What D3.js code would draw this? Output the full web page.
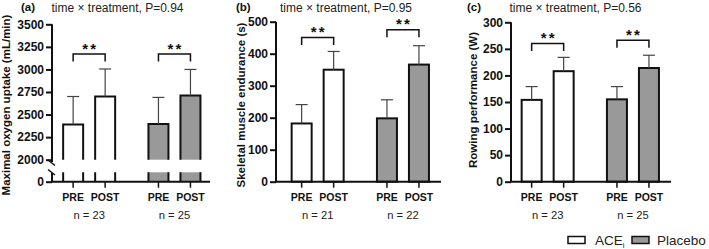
<!DOCTYPE html>
<html>
<head>
<meta charset="utf-8">
<script src="https://cdn.jsdelivr.net/npm/d3@7"></script>
<style>
  body { margin: 0; background: #fff; }
  svg { display: block; font-family: Arial, "Liberation Sans", Helvetica, sans-serif; }
</style>
</head>
<body>
<div id="chart"></div>
<script>
    // values
    const groups = ["ACEi", "Placebo"];
    const times = ["PRE", "POST"];

    const vo2Mean = [[2390, 2700], [2395, 2710]];
    const vo2Sd = [[310, 305], [295, 290]];
    const vo2N = [23, 25];
    const vo2Ticks = [2000, 2250, 2500, 2750, 3000, 3250, 3500];

    const endMean = [[182, 350], [198, 366]];
    const endSd = [[59, 57], [58, 59]];
    const endN = [21, 22];
    const endTicks = [0, 100, 200, 300, 400, 500];

    const rowMean = [[154, 208], [155, 214]];
    const rowSd = [[25, 26], [24, 24]];
    const rowN = [23, 25];
    const rowTicks = [0, 50, 100, 150, 200, 250, 300];

    const pValues = ["0.94", "0.95", "0.56"];
    const panelLetters = ["(a)", "(b)", "(c)"];
    const yLabels = ["Maximal oxygen uptake (mL/min)", "Skeletal muscle endurance (s)", "Rowing performance (W)"];
    const bracketLevel = [[3170, 3170], [451, 475], [260, 266]];

    const width = 709;
    const height = 249;
    const fillColor = {ACEi: "#ffffff", Placebo: "#999999"};

    const svg = d3.select("#chart").append("svg")
        .attr("width", width)
        .attr("height", height);

    const panels = [
        {mean: vo2Mean, sd: vo2Sd, n: vo2N, ticks: vo2Ticks, domain: [2000, 3500], broken: true,
         axisX: 52, axisEnd: 210, pad: 5.8, top: 24.3, base: 159.7, letterX: 21, titleX: 117.5, labelX: 10},
        {mean: endMean, sd: endSd, n: endN, ticks: endTicks, domain: [0, 500], broken: false,
         axisX: 276, axisEnd: 441, pad: 10.3, top: 21.7, base: 181.7, letterX: 236, titleX: 346, labelX: 245},
        {mean: rowMean, sd: rowSd, n: rowN, ticks: rowTicks, domain: [0, 300], broken: false,
         axisX: 511, axisEnd: 671, pad: 5.3, top: 22.3, base: 181.7, letterX: 467, titleX: 575.5, labelX: 477}
    ];

    const zeroY = 181.7;
    const lowerTop = 172.3;

    panels.forEach((p, pi) => {
        const g = svg.append("g");

        const y = d3.scaleLinear().domain(p.domain).range([p.base, p.top]);
        const yLow = d3.scaleLinear().domain([0, 400]).range([zeroY, lowerTop]);

        const outer = d3.scaleBand()
            .domain(groups)
            .range([p.axisX + p.pad, p.axisX + p.pad + 148])
            .paddingInner(0.265);
        const inner = d3.scaleBand()
            .domain(times)
            .range([0, outer.bandwidth()])
            .paddingInner(0.375)
            .paddingOuter(0.167);

        const rows = [];
        groups.forEach((grp, gi) => {
            times.forEach((t, ti) => {
                rows.push({grp, t, gi, ti, mean: p.mean[gi][ti], sd: p.sd[gi][ti]});
            });
        });
        const bx = d => outer(d.grp) + inner(d.t);
        const cx = d => bx(d) + inner.bandwidth() / 2;

        // bars
        if (p.broken) {
            g.selectAll("rect.up").data(rows).join("rect")
                .attr("x", bx).attr("width", inner.bandwidth())
                .attr("y", d => y(d.mean)).attr("height", d => y(p.domain[0]) - y(d.mean))
                .attr("fill", d => fillColor[d.grp]);
            g.selectAll("path.up").data(rows).join("path")
                .attr("d", d => `M${bx(d)},${y(p.domain[0])}V${y(d.mean)}H${bx(d) + inner.bandwidth()}V${y(p.domain[0])}`)
                .attr("fill", "none").attr("stroke", "#111").attr("stroke-width", 2);
            g.selectAll("rect.low").data(rows).join("rect")
                .attr("x", bx).attr("width", inner.bandwidth())
                .attr("y", yLow(400)).attr("height", yLow(0) - yLow(400))
                .attr("fill", d => fillColor[d.grp]);
            g.selectAll("path.low").data(rows).join("path")
                .attr("d", d => `M${bx(d)},${yLow(400)}V${yLow(0)}M${bx(d) + inner.bandwidth()},${yLow(400)}V${yLow(0)}`)
                .attr("stroke", "#111").attr("stroke-width", 2);
        } else {
            g.selectAll("rect.bar").data(rows).join("rect")
                .attr("x", bx).attr("width", inner.bandwidth())
                .attr("y", d => y(d.mean)).attr("height", d => y(0) - y(d.mean))
                .attr("fill", d => fillColor[d.grp])
                .attr("stroke", "#111").attr("stroke-width", 2);
        }

        // error bars (upper only)
        const eb = g.selectAll("g.err").data(rows).join("g").attr("stroke", "#444").attr("stroke-width", 1.2);
        eb.append("line")
            .attr("x1", cx).attr("x2", cx)
            .attr("y1", d => y(d.mean)).attr("y2", d => y(d.mean + d.sd));
        eb.append("line")
            .attr("x1", d => cx(d) - 6).attr("x2", d => cx(d) + 6)
            .attr("y1", d => y(d.mean + d.sd)).attr("y2", d => y(d.mean + d.sd));

        // y axis
        const yAxis = d3.axisLeft(y).tickValues(p.ticks).tickSize(6).tickPadding(2).tickFormat(d3.format("d"));
        const ya = g.append("g").attr("transform", `translate(${p.axisX},0)`).call(yAxis);
        ya.select(".domain").remove();
        if (p.broken) {
            const yl = g.append("g").attr("transform", `translate(${p.axisX},0)`)
                .call(d3.axisLeft(yLow).tickValues([0]).tickSize(6).tickPadding(2));
            yl.select(".domain").remove();
            g.append("line").attr("x1", p.axisX).attr("x2", p.axisX)
                .attr("y1", p.top).attr("y2", 162).attr("stroke", "#111").attr("stroke-width", 2);
            g.append("line").attr("x1", p.axisX).attr("x2", p.axisX)
                .attr("y1", 173).attr("y2", zeroY).attr("stroke", "#111").attr("stroke-width", 2);
            [160, 169.5].forEach(v => {
                g.append("line").attr("x1", p.axisX - 4).attr("x2", p.axisX + 3)
                    .attr("y1", v).attr("y2", v + 5.5).attr("stroke", "#111").attr("stroke-width", 1.5);
            });
        } else {
            g.append("line").attr("x1", p.axisX).attr("x2", p.axisX)
                .attr("y1", p.top).attr("y2", zeroY).attr("stroke", "#111").attr("stroke-width", 2);
        }
        g.selectAll(".tick line").attr("stroke", "#111").attr("stroke-width", 2);
        g.selectAll(".tick text").attr("font-size", 12).attr("font-weight", "bold").attr("fill", "#111")
            .attr("font-family", "Arial, 'Liberation Sans', sans-serif");

        // x axis
        g.append("line").attr("x1", p.axisX - 1).attr("x2", p.axisEnd)
            .attr("y1", zeroY).attr("y2", zeroY).attr("stroke", "#111").attr("stroke-width", 2);
        g.selectAll("line.xt").data(rows).join("line")
            .attr("x1", cx).attr("x2", cx).attr("y1", zeroY).attr("y2", zeroY + 6)
            .attr("stroke", "#111").attr("stroke-width", 1.5);
        g.selectAll("text.xl").data(rows).join("text")
            .attr("x", cx).attr("y", 201)
            .attr("text-anchor", "middle").attr("font-size", 10.5).attr("font-weight", "bold").attr("fill", "#111")
            .text(d => d.t);
        g.selectAll("text.nl").data(groups).join("text")
            .attr("x", d => outer(d) + outer.bandwidth() / 2).attr("y", 219)
            .attr("text-anchor", "middle").attr("font-size", 11.2).attr("fill", "#222")
            .text((d, i) => `n = ${p.n[i]}`);

        // significance brackets
        groups.forEach((grp, gi) => {
            const a = outer(grp) + inner("PRE") + inner.bandwidth() / 2;
            const b = outer(grp) + inner("POST") + inner.bandwidth() / 2;
            const by = y(bracketLevel[pi][gi]);
            g.append("path")
                .attr("d", `M${a},${by + 7.5}V${by}H${b}V${by + 7.5}`)
                .attr("fill", "none").attr("stroke", "#111").attr("stroke-width", 1.5);
            g.append("text")
                .attr("x", (a + b) / 2 + 1).attr("y", by - 0.5)
                .attr("text-anchor", "middle").attr("font-size", 15).attr("font-weight", "bold")
                .attr("letter-spacing", 2).attr("fill", "#111")
                .text("**");
        });

        // titles
        g.append("text").attr("x", p.letterX).attr("y", 11)
            .attr("font-size", 11.5).attr("font-weight", "bold").attr("fill", "#111")
            .text(panelLetters[pi]);
        g.append("text").attr("x", p.titleX).attr("y", 12)
            .attr("text-anchor", "middle").attr("font-size", 12).attr("fill", "#222")
            .text(`time × treatment, P=${pValues[pi]}`);
        g.append("text")
            .attr("transform", `translate(${p.labelX},${pi === 2 ? 100 : 105}) rotate(-90)`)
            .attr("text-anchor", "middle").attr("font-size", 11.5).attr("font-weight", "bold").attr("fill", "#111")
            .text(yLabels[pi]);
    });

    // legend
    const legend = svg.append("g").attr("transform", "translate(568,236.5)");
    const legX = d3.scalePoint().domain(groups).range([0, 64]);
    const li = legend.selectAll("g").data(groups).join("g")
        .attr("transform", d => `translate(${legX(d)},0)`);
    li.append("rect").attr("width", 17).attr("height", 7)
        .attr("fill", d => fillColor[d]).attr("stroke", "#111").attr("stroke-width", 1.5);
    const lt = li.append("text").attr("x", d => d === "ACEi" ? 27 : 25).attr("y", 8.5)
        .attr("font-size", 13.5).attr("fill", "#222");
    lt.append("tspan").text(d => d === "ACEi" ? "ACE" : "Placebo");
    lt.filter(d => d === "ACEi").append("tspan")
        .attr("font-size", 8).attr("dy", 3).text("i");
</script>
</body>
</html>
